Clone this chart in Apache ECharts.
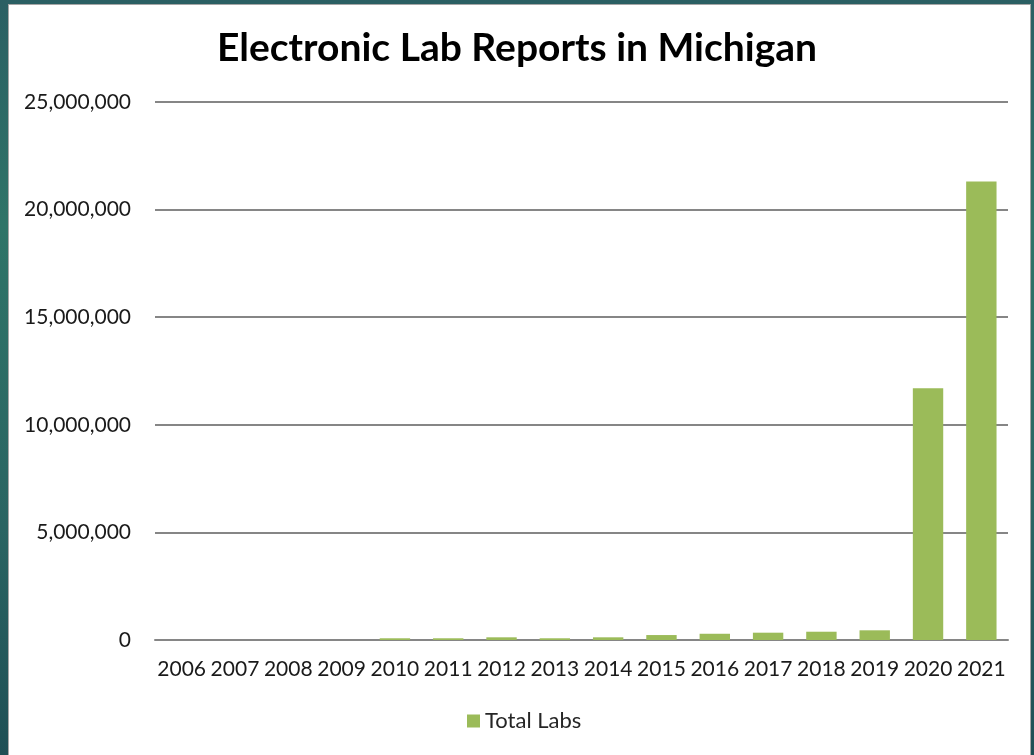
<!DOCTYPE html>
<html>
<head>
<meta charset="utf-8">
<script src="https://cdn.jsdelivr.net/npm/echarts@6/dist/echarts.min.js"></script>
<style>
  html, body { margin: 0; padding: 0; width: 1034px; height: 755px; overflow: hidden; }
  body { background: linear-gradient(180deg, #2b5f63 0%, #2f7468 30%, #2a6462 70%, #1f4f55 100%); position: relative; }
  #card { position: absolute; left: 8px; top: 4px; width: 1023px; height: 752px; background: #ffffff; border: 1px solid #a6a6a6; box-sizing: border-box; }
  #chart { position: absolute; left: 0; top: 0; width: 1034px; height: 755px; }
</style>
</head>
<body>
<div id="card"></div>
<div id="chart"></div>
<script>
const years = ['2006','2007','2008','2009','2010','2011','2012','2013','2014','2015','2016','2017','2018','2019','2020','2021'];
const totalLabs = [0, 0, 0, 0, 80000, 80000, 125000, 80000, 125000, 230000, 290000, 340000, 385000, 450000, 11700000, 21300000];
const yTicks = { min: 0, max: 25000000, interval: 5000000 };
const seriesName = 'Total Labs';
const titleText = 'Electronic Lab Reports in Michigan';

const chart = echarts.init(document.getElementById('chart'), null, { renderer: 'canvas' });
const font = 'Lato, "Open Sans", sans-serif';
chart.setOption({
  animation: false,
  backgroundColor: 'transparent',
  title: {
    text: titleText,
    left: 'center',
    top: 24,
    textStyle: { fontFamily: font, fontSize: 39, fontWeight: 'bold', color: '#000000' }
  },
  legend: {
    bottom: 18,
    left: 462,
    itemWidth: 13,
    itemHeight: 13,
    icon: 'rect',
    itemGap: 6,
    textStyle: { fontFamily: font, fontSize: 22, color: '#262626' },
    data: [seriesName]
  },
  grid: { left: 155, right: 26, top: 102, bottom: 115, containLabel: false },
  xAxis: {
    type: 'category',
    data: years,
    axisLine: { show: true, lineStyle: { color: '#868686', width: 2 } },
    axisTick: { show: false },
    axisLabel: { fontFamily: font, fontSize: 21, color: '#1a1a1a', margin: 19, interval: 0 }
  },
  yAxis: {
    type: 'value',
    min: yTicks.min,
    max: yTicks.max,
    interval: yTicks.interval,
    axisLine: { show: false },
    axisTick: { show: false },
    splitLine: { lineStyle: { color: '#868686', width: 2 } },
    axisLabel: {
      fontFamily: font, fontSize: 21, color: '#1a1a1a', margin: 24,
      formatter: v => v.toLocaleString('en-US')
    }
  },
  series: [{
    name: seriesName,
    type: 'bar',
    data: totalLabs,
    barWidth: '57%',
    itemStyle: { color: '#9bbb59', borderWidth: 0 }
  }]
});
</script>
</body>
</html>
